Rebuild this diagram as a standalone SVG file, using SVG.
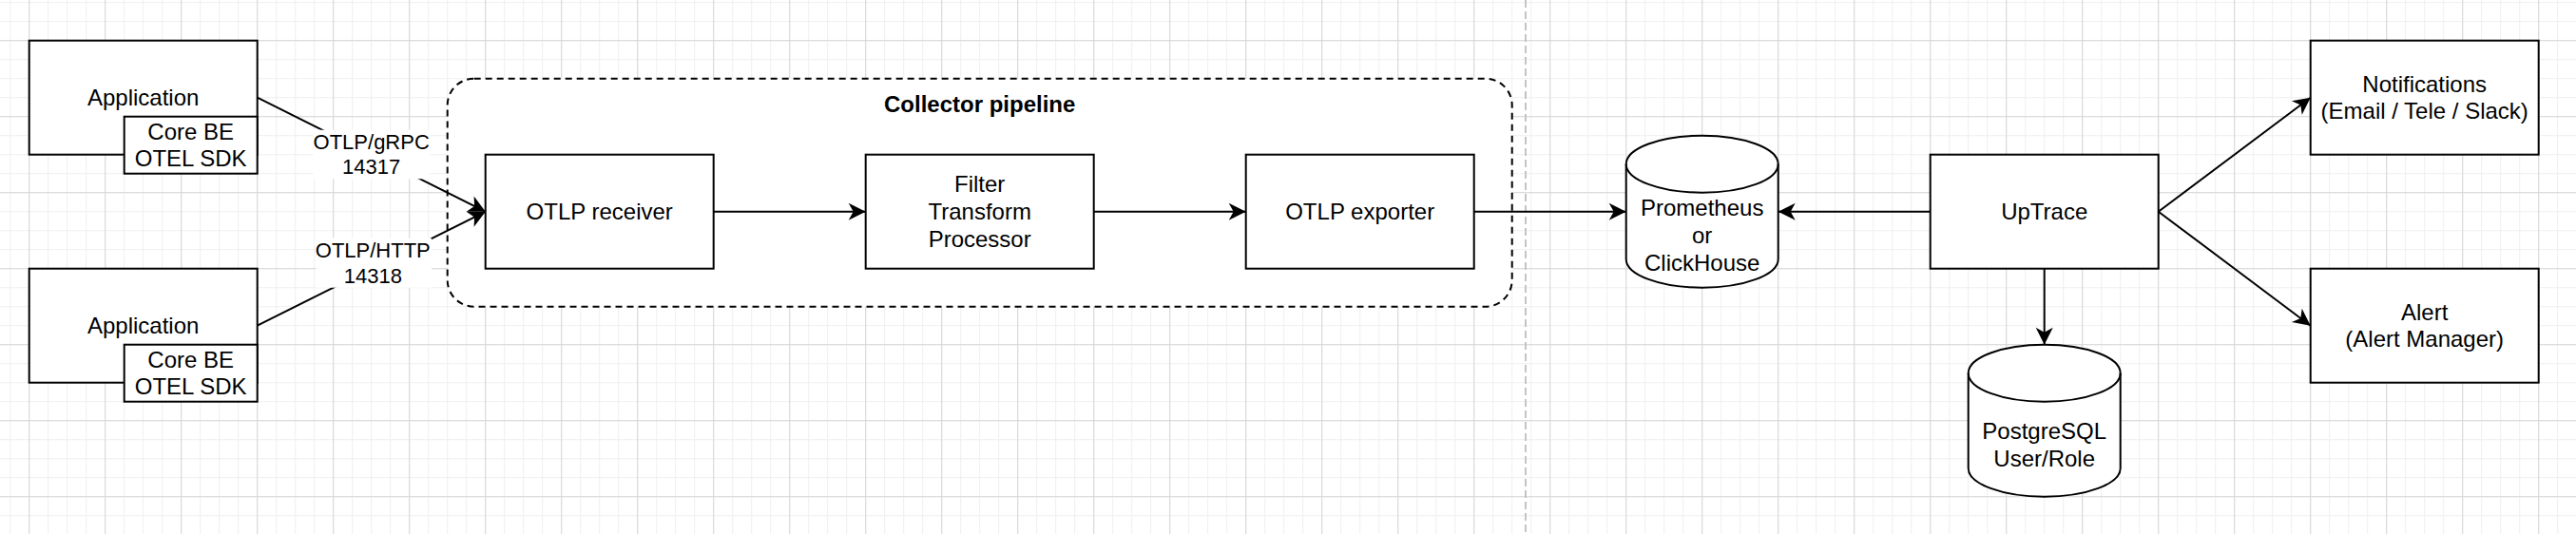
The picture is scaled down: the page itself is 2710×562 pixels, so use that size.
<svg xmlns="http://www.w3.org/2000/svg" width="2710" height="562" viewBox="0 0 2710 562">
  <defs>
    <pattern id="minor" x="10.2" y="2.2" width="20" height="20" patternUnits="userSpaceOnUse">
      <path d="M0.5,0 V20 M0,0.5 H20" stroke="#efefef" stroke-width="1" fill="none"/>
    </pattern>
    <pattern id="major" x="30.2" y="42.2" width="80" height="80" patternUnits="userSpaceOnUse">
      <path d="M0.5,0 V80 M0,0.5 H80" stroke="#d6d6d6" stroke-width="1" fill="none"/>
    </pattern>
    <marker id="arrow" viewBox="0 0 18 18" refX="18" refY="9" markerWidth="18" markerHeight="18" markerUnits="userSpaceOnUse" orient="auto" overflow="visible">
      <path d="M0,0 L18,9 L0,18 L5,9 Z" fill="#000"/>
    </marker>
  </defs>
  <style>
    .box { fill: #fff; stroke: #000; stroke-width: 2; }
    .conn { fill: none; stroke: #000; stroke-width: 2; }
    .t { font-family: "Liberation Sans", Arial, Helvetica, sans-serif; font-size: 24px; fill: #000; text-anchor: middle; }
    .lbl { font-family: "Liberation Sans", Arial, Helvetica, sans-serif; font-size: 22px; fill: #000; text-anchor: middle; }
    .bold { font-weight: bold; }
  </style>

  <rect x="0" y="0" width="2710" height="562" fill="#fff"/>
  <rect x="0" y="0" width="2710" height="562" fill="url(#minor)"/>
  <rect x="0" y="0" width="2710" height="562" fill="url(#major)"/>

  <line x1="1605" y1="0" x2="1605" y2="562" stroke="#c4c4c4" stroke-width="2" stroke-dasharray="8 4"/>

  <g id="collector-pipeline">
    <rect x="470.7" y="82.7" width="1120" height="240" rx="28" ry="28" fill="#fff" stroke="#000" stroke-width="2" stroke-dasharray="7 5"/>
    <text class="t bold" x="1030.7" y="118">Collector pipeline</text>
  </g>

  <g id="app1">
    <rect class="box" x="30.7" y="42.7" width="240" height="120"/>
    <text class="t" x="150.7" y="111">Application</text>
  </g>
  <g id="sdk1">
    <rect class="box" x="130.7" y="122.7" width="140" height="60"/>
    <text class="t" x="200.7" y="146.6">Core BE</text>
    <text class="t" x="200.7" y="175.4">OTEL SDK</text>
  </g>

  <g id="app2">
    <rect class="box" x="30.7" y="282.7" width="240" height="120"/>
    <text class="t" x="150.7" y="351">Application</text>
  </g>
  <g id="sdk2">
    <rect class="box" x="130.7" y="362.7" width="140" height="60"/>
    <text class="t" x="200.7" y="386.6">Core BE</text>
    <text class="t" x="200.7" y="415.4">OTEL SDK</text>
  </g>

  <g id="otlp-receiver">
    <rect class="box" x="510.7" y="162.7" width="240" height="120"/>
    <text class="t" x="630.7" y="231">OTLP receiver</text>
  </g>

  <g id="processor">
    <rect class="box" x="910.7" y="162.7" width="240" height="120"/>
    <text class="t" x="1030.7" y="202.2">Filter</text>
    <text class="t" x="1030.7" y="231">Transform</text>
    <text class="t" x="1030.7" y="259.8">Processor</text>
  </g>

  <g id="otlp-exporter">
    <rect class="box" x="1310.7" y="162.7" width="240" height="120"/>
    <text class="t" x="1430.7" y="231">OTLP exporter</text>
  </g>

  <g id="prometheus">
    <path class="box" d="M1710.7,172.7 A80,30 0 0 1 1870.7,172.7 L1870.7,272.7 A80,30 0 0 1 1710.7,272.7 Z"/>
    <path class="conn" d="M1710.7,172.7 A80,30 0 0 0 1870.7,172.7"/>
    <text class="t" x="1790.7" y="227">Prometheus</text>
    <text class="t" x="1790.7" y="255.8">or</text>
    <text class="t" x="1790.7" y="284.6">ClickHouse</text>
  </g>

  <g id="uptrace">
    <rect class="box" x="2030.7" y="162.7" width="240" height="120"/>
    <text class="t" x="2150.7" y="231">UpTrace</text>
  </g>

  <g id="postgresql">
    <path class="box" d="M2070.7,392.7 A80,30 0 0 1 2230.7,392.7 L2230.7,492.7 A80,30 0 0 1 2070.7,492.7 Z"/>
    <path class="conn" d="M2070.7,392.7 A80,30 0 0 0 2230.7,392.7"/>
    <text class="t" x="2150.7" y="461.9">PostgreSQL</text>
    <text class="t" x="2150.7" y="490.7">User/Role</text>
  </g>

  <g id="notifications">
    <rect class="box" x="2430.7" y="42.7" width="240" height="120"/>
    <text class="t" x="2550.7" y="96.6">Notifications</text>
    <text class="t" x="2550.7" y="125.4">(Email / Tele / Slack)</text>
  </g>

  <g id="alert">
    <rect class="box" x="2430.7" y="282.7" width="240" height="120"/>
    <text class="t" x="2550.7" y="336.6">Alert</text>
    <text class="t" x="2550.7" y="365.4">(Alert Manager)</text>
  </g>

  <g id="connectors">
    <path class="conn" d="M270.7,102.7 L510.7,222.7" marker-end="url(#arrow)"/>
    <path class="conn" d="M270.7,342.7 L510.7,222.7" marker-end="url(#arrow)"/>
    <rect x="329.5" y="136.7" width="122.5" height="51.6" fill="#fff"/>
    <text class="lbl" x="390.7" y="156.9">OTLP/gRPC</text>
    <text class="lbl" x="390.7" y="183.3">14317</text>
    <rect x="332.6" y="250.7" width="121.4" height="52" fill="#fff"/>
    <text class="lbl" x="392.3" y="271.1">OTLP/HTTP</text>
    <text class="lbl" x="392.3" y="297.5">14318</text>
    <path class="conn" d="M750.7,222.7 L910.7,222.7" marker-end="url(#arrow)"/>
    <path class="conn" d="M1150.7,222.7 L1310.7,222.7" marker-end="url(#arrow)"/>
    <path class="conn" d="M1550.7,222.7 L1710.7,222.7" marker-end="url(#arrow)"/>
    <path class="conn" d="M2030.7,222.7 L1870.7,222.7" marker-end="url(#arrow)"/>
    <path class="conn" d="M2150.7,282.7 L2150.7,362.7" marker-end="url(#arrow)"/>
    <path class="conn" d="M2270.7,222.7 L2430.7,102.7" marker-end="url(#arrow)"/>
    <path class="conn" d="M2270.7,222.7 L2430.7,342.7" marker-end="url(#arrow)"/>
  </g>
</svg>
